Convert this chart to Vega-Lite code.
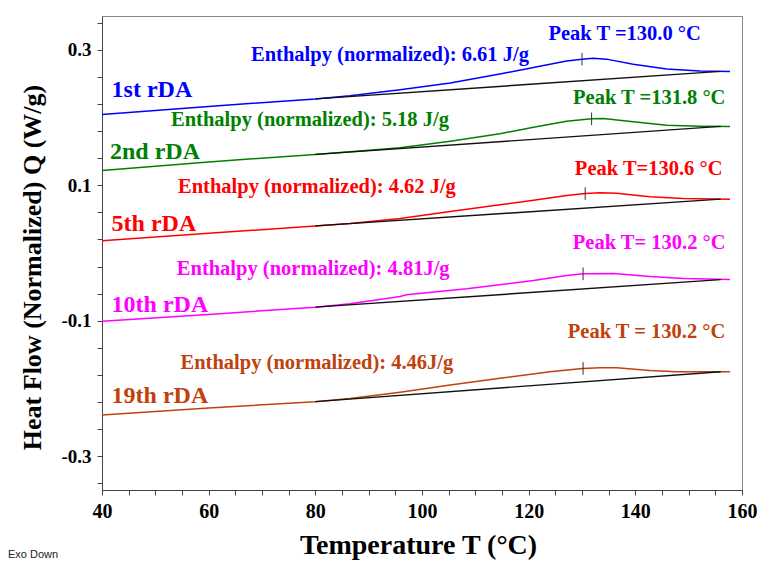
{
  "$schema": "https://vega.github.io/schema/vega-lite/v6.json",
  "width": 640,
  "height": 474,
  "autosize": "none",
  "padding": {"left": 102, "top": 16, "right": 19, "bottom": 73},
  "background": "white",
  "title": {"text": "Exo Down", "orient": "bottom", "anchor": "start", "frame": "group", "font": "Liberation Sans", "fontSize": 11, "fontWeight": "normal", "color": "#222222", "dx": -94, "offset": -10},
  "config": {"view": {"stroke": "#888888", "strokeWidth": 1}},
  "datasets": {
    "curves": [
      {"run": "1st", "T": 40, "Q": 0.2044}, {"run": "1st", "T": 60, "Q": 0.2165}, {"run": "1st", "T": 80, "Q": 0.2276}, {"run": "1st", "T": 86.5, "Q": 0.2324}, {"run": "1st", "T": 95.9, "Q": 0.2412}, {"run": "1st", "T": 105.3, "Q": 0.251}, {"run": "1st", "T": 114.6, "Q": 0.2643}, {"run": "1st", "T": 120.9, "Q": 0.274}, {"run": "1st", "T": 127.1, "Q": 0.2834}, {"run": "1st", "T": 130.0, "Q": 0.2863}, {"run": "1st", "T": 132.1, "Q": 0.2877}, {"run": "1st", "T": 134.6, "Q": 0.2863}, {"run": "1st", "T": 139.6, "Q": 0.2789}, {"run": "1st", "T": 145.9, "Q": 0.2716}, {"run": "1st", "T": 152.1, "Q": 0.2686}, {"run": "1st", "T": 157.75, "Q": 0.2681},
      {"run": "2nd", "T": 40, "Q": 0.1218}, {"run": "2nd", "T": 60, "Q": 0.1345}, {"run": "2nd", "T": 80, "Q": 0.1456}, {"run": "2nd", "T": 86.5, "Q": 0.1495}, {"run": "2nd", "T": 95.9, "Q": 0.1555}, {"run": "2nd", "T": 105.3, "Q": 0.1652}, {"run": "2nd", "T": 114.6, "Q": 0.176}, {"run": "2nd", "T": 120.9, "Q": 0.1858}, {"run": "2nd", "T": 127.1, "Q": 0.1946}, {"run": "2nd", "T": 131.8, "Q": 0.1981}, {"run": "2nd", "T": 134.0, "Q": 0.1986}, {"run": "2nd", "T": 139.6, "Q": 0.1937}, {"run": "2nd", "T": 145.9, "Q": 0.1887}, {"run": "2nd", "T": 152.1, "Q": 0.1872}, {"run": "2nd", "T": 157.75, "Q": 0.1868},
      {"run": "5th", "T": 40, "Q": 0.0182}, {"run": "5th", "T": 60, "Q": 0.0291}, {"run": "5th", "T": 80, "Q": 0.04}, {"run": "5th", "T": 86.5, "Q": 0.0437}, {"run": "5th", "T": 95.9, "Q": 0.0511}, {"run": "5th", "T": 105.3, "Q": 0.0614}, {"run": "5th", "T": 114.6, "Q": 0.0711}, {"run": "5th", "T": 120.9, "Q": 0.078}, {"run": "5th", "T": 127.1, "Q": 0.0849}, {"run": "5th", "T": 130.6, "Q": 0.0878}, {"run": "5th", "T": 133.4, "Q": 0.0888}, {"run": "5th", "T": 136.5, "Q": 0.0883}, {"run": "5th", "T": 142.75, "Q": 0.0829}, {"run": "5th", "T": 149.0, "Q": 0.0805}, {"run": "5th", "T": 157.75, "Q": 0.0795},
      {"run": "10th", "T": 40, "Q": -0.1009}, {"run": "10th", "T": 60, "Q": -0.0907}, {"run": "10th", "T": 80, "Q": -0.08}, {"run": "10th", "T": 86.5, "Q": -0.0749}, {"run": "10th", "T": 95.9, "Q": -0.0641}, {"run": "10th", "T": 97.1, "Q": -0.0616}, {"run": "10th", "T": 108.4, "Q": -0.0528}, {"run": "10th", "T": 120.9, "Q": -0.0406}, {"run": "10th", "T": 127.1, "Q": -0.0333}, {"run": "10th", "T": 130.2, "Q": -0.0308}, {"run": "10th", "T": 135.9, "Q": -0.0303}, {"run": "10th", "T": 142.75, "Q": -0.0347}, {"run": "10th", "T": 149.0, "Q": -0.0376}, {"run": "10th", "T": 157.75, "Q": -0.0391},
      {"run": "19th", "T": 40, "Q": -0.2391}, {"run": "19th", "T": 60, "Q": -0.229}, {"run": "19th", "T": 80, "Q": -0.2195}, {"run": "19th", "T": 86.5, "Q": -0.215}, {"run": "19th", "T": 95.9, "Q": -0.2057}, {"run": "19th", "T": 105.3, "Q": -0.195}, {"run": "19th", "T": 114.6, "Q": -0.1851}, {"run": "19th", "T": 124.0, "Q": -0.1753}, {"run": "19th", "T": 130.1, "Q": -0.1704}, {"run": "19th", "T": 133.4, "Q": -0.1694}, {"run": "19th", "T": 136.5, "Q": -0.1694}, {"run": "19th", "T": 142.75, "Q": -0.1734}, {"run": "19th", "T": 147.75, "Q": -0.1753}, {"run": "19th", "T": 157.75, "Q": -0.1753}
    ],
    "baselines": [
      {"run": "1st", "T": 80, "Q": 0.2276}, {"run": "1st", "T": 156, "Q": 0.2682},
      {"run": "2nd", "T": 80, "Q": 0.1456}, {"run": "2nd", "T": 156, "Q": 0.187},
      {"run": "5th", "T": 80, "Q": 0.04}, {"run": "5th", "T": 156, "Q": 0.0795},
      {"run": "10th", "T": 80, "Q": -0.08}, {"run": "10th", "T": 156, "Q": -0.0393},
      {"run": "19th", "T": 80, "Q": -0.2195}, {"run": "19th", "T": 156, "Q": -0.1753}
    ],
    "peaks": [
      {"run": "1st", "T": 130.0, "Q": 0.2863},
      {"run": "2nd", "T": 131.8, "Q": 0.1981},
      {"run": "5th", "T": 130.6, "Q": 0.0878},
      {"run": "10th", "T": 130.2, "Q": -0.0308},
      {"run": "19th", "T": 130.2, "Q": -0.1704}
    ],
    "names": [
      {"run": "1st", "T": 41.8, "Q": 0.2407, "label": "1st rDA"},
      {"run": "2nd", "T": 41.5, "Q": 0.1493, "label": "2nd rDA"},
      {"run": "5th", "T": 41.8, "Q": 0.0425, "label": "5th rDA"},
      {"run": "10th", "T": 41.8, "Q": -0.0768, "label": "10th rDA"},
      {"run": "19th", "T": 41.8, "Q": -0.2108, "label": "19th rDA"}
    ],
    "notes": [
      {"run": "1st", "T": 94.0, "Q": 0.2926, "label": "Enthalpy (normalized): 6.61 J/g"},
      {"run": "1st", "T": 138.0, "Q": 0.3231, "label": "Peak T =130.0 °C"},
      {"run": "2nd", "T": 79.0, "Q": 0.1971, "label": "Enthalpy (normalized): 5.18 J/g"},
      {"run": "2nd", "T": 142.6, "Q": 0.229, "label": "Peak T =131.8 °C"},
      {"run": "5th", "T": 80.3, "Q": 0.0976, "label": "Enthalpy (normalized): 4.62 J/g"},
      {"run": "5th", "T": 142.5, "Q": 0.1246, "label": "Peak T=130.6 °C"},
      {"run": "10th", "T": 79.6, "Q": -0.0234, "label": "Enthalpy (normalized): 4.81J/g"},
      {"run": "10th", "T": 142.6, "Q": 0.0148, "label": "Peak T= 130.2 °C"},
      {"run": "19th", "T": 80.3, "Q": -0.1631, "label": "Enthalpy (normalized): 4.46J/g"},
      {"run": "19th", "T": 142.1, "Q": -0.1165, "label": "Peak T = 130.2 °C"}
    ]
  },
  "encoding": {
    "x": {
      "field": "T", "type": "quantitative",
      "scale": {"domain": [40, 160], "nice": false, "zero": false},
      "axis": {
        "title": "Temperature T (°C)",
        "values": [40, 45, 50, 55, 60, 65, 70, 75, 80, 85, 90, 95, 100, 105, 110, 115, 120, 125, 130, 135, 140, 145, 150, 155, 160],
        "labelExpr": "datum.value % 20 == 0 ? datum.label : ''",
        "grid": false, "tickSize": 5, "tickColor": "#444444", "domainColor": "#444444",
        "labelFont": "Liberation Serif", "labelFontWeight": "bold", "labelFontSize": 20, "labelColor": "#000000",
        "labelPadding": 6, "labelFlush": false, "labelOverlap": false, "labelBound": false,
        "titleFont": "Liberation Serif", "titleFontWeight": "bold", "titleFontSize": 28, "titleColor": "#000000", "titlePadding": 10,
        "titleX": 316
      }
    },
    "y": {
      "field": "Q", "type": "quantitative",
      "scale": {"domain": [-0.35, 0.35], "nice": false, "zero": false},
      "axis": {
        "title": "Heat Flow (Normalized)  Q (W/g)",
        "values": [0.34, 0.3, 0.26, 0.22, 0.18, 0.14, 0.1, 0.06, 0.02, -0.02, -0.06, -0.1, -0.14, -0.18, -0.22, -0.26, -0.3, -0.34],
        "labelExpr": "datum.value > 0.29 && datum.value < 0.31 ? '0.3' : datum.value > 0.09 && datum.value < 0.11 ? '0.1' : datum.value < -0.09 && datum.value > -0.11 ? '-0.1' : datum.value < -0.29 && datum.value > -0.31 ? '-0.3' : ''",
        "grid": false, "tickSize": 5, "tickColor": "#444444", "domainColor": "#444444",
        "labelFont": "Liberation Serif", "labelFontWeight": "bold", "labelFontSize": 19, "labelColor": "#000000",
        "labelPadding": 6, "labelOverlap": false, "labelBound": false, "labelFlush": false,
        "titleFont": "Liberation Serif", "titleFontWeight": "bold", "titleFontSize": 26, "titleColor": "#000000", "titlePadding": 15,
        "titleY": 251
      }
    }
  },
  "layer": [
    {
      "data": {"name": "curves"},
      "mark": {"type": "line", "strokeWidth": 1.5},
      "encoding": {
        "color": {"field": "run", "type": "nominal", "legend": null,
          "scale": {"domain": ["1st", "2nd", "5th", "10th", "19th"], "range": ["#0000ff", "#008000", "#ff0000", "#ff00ff", "#c0410c"]}}
      }
    },
    {
      "data": {"name": "baselines"},
      "mark": {"type": "line", "color": "#111111", "strokeWidth": 1.4},
      "encoding": {"detail": {"field": "run"}}
    },
    {
      "data": {"name": "peaks"},
      "mark": {"type": "point", "shape": "M0,-1L0,1", "size": 160, "filled": false, "stroke": "#333333", "strokeWidth": 1, "opacity": 1}
    },
    {
      "data": {"name": "names"},
      "mark": {"type": "text", "align": "left", "baseline": "middle", "font": "Liberation Serif", "fontWeight": "bold", "fontSize": 24},
      "encoding": {
        "text": {"field": "label"},
        "color": {"field": "run", "type": "nominal", "legend": null}
      }
    },
    {
      "data": {"name": "notes"},
      "mark": {"type": "text", "align": "center", "baseline": "middle", "font": "Liberation Serif", "fontWeight": "bold", "fontSize": 20.5},
      "encoding": {
        "text": {"field": "label"},
        "color": {"field": "run", "type": "nominal", "legend": null}
      }
    }
  ]
}
